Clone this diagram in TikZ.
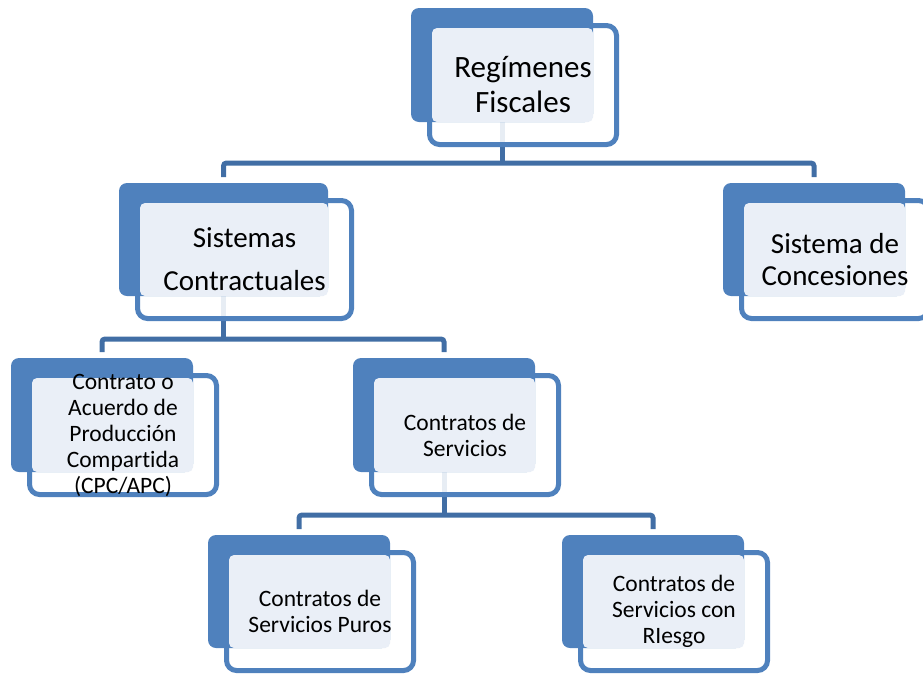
\documentclass[tikz,border=0pt]{standalone}
\usepackage{fontspec}
\setmainfont{Carlito}[Ligatures={NoCommon}]
\usetikzlibrary{calc}
\definecolor{boxblue}{RGB}{79,129,189}
\definecolor{linkblue}{RGB}{65,110,165}
\definecolor{lightfill}{RGB}{234,239,247}
\pgfdeclarelayer{background}
\pgfsetlayers{background,main}
\tikzset{
  backbox/.style={fill=boxblue, rounded corners=8pt, inner sep=0pt, outer sep=0pt},
  frontbox/.style={draw=boxblue, line width=5pt, fill=white, fill opacity=0.88, rounded corners=10pt, inner sep=0pt, outer sep=0pt},
  textbg/.style={fill=lightfill, rounded corners=5pt},
  textnode/.style={align=center, inner sep=0pt, text=black},
  link/.style={draw=linkblue, line width=5pt, rounded corners=3pt}
}
\newcommand\orgbox[8]{%
  \pgfmathsetmacro\bw{#4-#2}%
  \pgfmathsetmacro\bh{#5-#3}%
  \pgfmathsetmacro\bcx{(#2+#4)/2}%
  \pgfmathsetmacro\bcy{(#3+#5)/2}%
  \node[frontbox, minimum width=\bw pt+5pt, minimum height=\bh pt+5pt] (#1-f) at (\bcx+21,\bcy+20) {};
  \node[backbox, minimum width=\bw pt, minimum height=\bh pt] (#1-b) at (\bcx,\bcy) {};
  \path[textbg] (#1-f.north west) ++(2.5,2.5) rectangle (#1-b.south east);
  \node[textnode, font=\fontsize{#6}{#7}\selectfont] (#1) at (#1-f.center) {#8};
}
\begin{document}
\begin{tikzpicture}[x=1pt, y=-1pt]
\useasboundingbox (0,0) rectangle (923,673);
\clip (0,0) rectangle (923,673);
\orgbox{A}{411}{8}{593}{122}{31}{35}{Regímenes\\Fiscales}
\orgbox{B}{119}{183}{328}{296}{29}{43}{Sistemas\\Contractuales}
\orgbox{C}{723}{183}{905}{296}{29}{31.5}{Sistema de\\Concesiones}
\orgbox{D}{11}{358}{193}{472}{23.5}{26}{Contrato o\\Acuerdo de\\Producción\\Compartida\\(CPC/APC)}
\orgbox{E}{353}{358}{535}{472}{23.5}{26}{Contratos de\\Servicios}
\orgbox{F}{208}{535}{390}{648}{23.5}{26}{Contratos de\\Servicios Puros}
\orgbox{G}{562}{535}{744}{648}{23.5}{26}{Contratos de\\Servicios con\\RIesgo}
\begin{pgfonlayer}{background}
  \draw[link] (A-b.south) -- ++(0,41) coordinate (A-j);
  \draw[link] ([yshift=6pt]B-b.north) |- (A-j) -| ([yshift=6pt]C-b.north);
  \draw[link] (B-b.south) -- ++(0,43) coordinate (B-j);
  \draw[link] ([yshift=6pt]D-b.north) |- (B-j) -| ([yshift=6pt]E-b.north);
  \draw[link] (E-b.south) -- ++(0,43) coordinate (E-j);
  \draw[link] ([yshift=6pt]F-b.north) |- (E-j) -| ([yshift=6pt]G-b.north);
\end{pgfonlayer}
\end{tikzpicture}
\end{document}
